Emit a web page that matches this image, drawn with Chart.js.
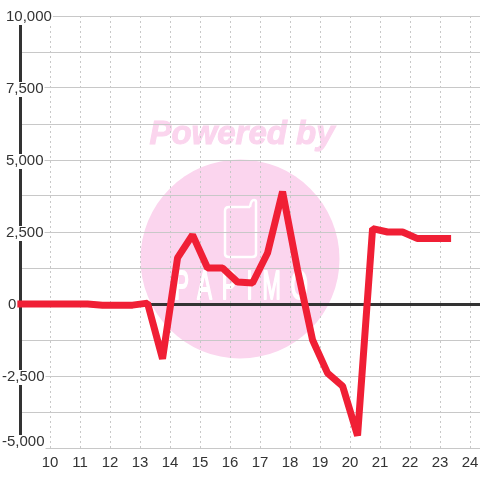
<!DOCTYPE html>
<html><head><meta charset="utf-8">
<style>html,body{margin:0;padding:0;background:#fff}#w{width:480px;height:480px;position:relative}</style>
<script src="https://cdn.jsdelivr.net/npm/chart.js@4"></script></head>
<body><div id="w"><canvas id="c" width="480" height="480"></canvas></div>
<script>
const hours=[9,9.25,9.75,10.25,10.75,11.25,11.75,12.25,12.75,13.25,13.75,14.25,14.75,15.25,15.75,16.25,16.75,17.25,17.75,18.25,18.75,19.25,19.75,20.25,20.75,21.25,21.75,22.25,22.75,23.25];
const values=[0,0,0,0,0,0,-40,-40,-40,30,-1900,1600,2400,1250,1250,760,730,1770,3900,1180,-1250,-2400,-2850,-4570,2620,2500,2500,2270,2270,2270];
const xTicks=[10,11,12,13,14,15,16,17,18,19,20,21,22,23,24];
const yLabels=[[10000,'10,000',6,1],[7500,'7,500',6,1],[5000,'5,000',6,1],[2500,'2,500',6,1],[0,'0',8,1],[-2500,'-2,500',2,1],[-5000,'-5,000',2,-6]];
const wm={id:'wm',beforeDraw(ch){const c=ch.ctx;c.save();
 c.fillStyle='#fbd5ee';c.beginPath();c.arc(240,259,99.5,0,Math.PI*2);c.fill();
 c.font='italic bold 33px "Liberation Sans"';c.textAlign='center';c.textBaseline='middle';c.strokeStyle='#fbd5ee';c.lineWidth=1;c.fillText('Powered by',242,135);c.strokeText('Powered by',242,135);
 c.strokeStyle='#fff';c.lineWidth=2.5;c.lineJoin='round';c.beginPath();c.moveTo(250,207);c.lineTo(229,207);c.quadraticCurveTo(225,207,225,211);c.lineTo(225,254);c.quadraticCurveTo(225,257,229,257);c.lineTo(252,257);c.quadraticCurveTo(256,257,256,254);c.lineTo(256,202);c.quadraticCurveTo(256,200,254,200);c.quadraticCurveTo(251,200,250,207);c.stroke();
 c.save();c.translate(246,288);c.scale(0.55,1);c.fillStyle='#fff';c.font='40px "Liberation Sans"';c.letterSpacing='18px';c.lineWidth=2;c.fillText('PAPIMO',0,0);c.strokeText('PAPIMO',0,0);c.restore();
 c.restore();}};
const lab={id:'lab',afterDraw(ch){const c=ch.ctx,s=ch.scales.y;c.save();c.font='15px "Liberation Sans"';c.textAlign='left';c.textBaseline='middle';
 for(const [v,t,x,d] of yLabels){const y=s.getPixelForValue(v)+d,w=c.measureText(t).width;c.fillStyle='#fff';c.fillRect(x-1,y-7,w+2,15);}
 for(const [v,t,x,d] of yLabels){const y=s.getPixelForValue(v)+d;c.fillStyle='#333';c.fillText(t,x,y);}
 c.restore();}};
new Chart(document.getElementById('c'),{type:'line',
 data:{datasets:[{data:hours.map((h,i)=>({x:h,y:values[i]})),borderColor:'#f01f35',borderWidth:7,pointRadius:0,tension:0,clip:false,borderJoinStyle:'bevel',borderCapStyle:'square'}]},
 plugins:[wm,lab],
 options:{responsive:false,animation:false,layout:{padding:{top:16,right:0,left:0,bottom:0}},
  plugins:{legend:{display:false},tooltip:{enabled:false}},
  scales:{
   x:{type:'linear',min:9,max:24.33,afterFit(s){s.height=32;s.paddingLeft=0;s.paddingRight=0},afterBuildTicks(s){s.ticks=[9,...xTicks].map(v=>({value:v}))},
    grid:{color:'#c8c8c8',lineWidth:1,tickLength:0,drawTicks:false},border:{display:false,dash:[2,3]},
    ticks:{color:'#333',font:{family:'Liberation Sans',size:15},padding:6,maxRotation:0,autoSkip:false,callback:v=>v===9?'':String(v)}},
   y:{min:-5000,max:10000,afterFit(s){s.width=20;s.paddingTop=0;s.paddingBottom=0},afterBuildTicks(s){s.ticks=[];for(let v=-5000;v<=10000;v+=1250)s.ticks.push({value:v})},
    grid:{color:c=>c.tick.value===0?'#333':'#c8c8c8',lineWidth:c=>c.tick.value===0?3:1,drawTicks:false},
    border:{color:'#333',width:3},ticks:{display:false}}
  }}});
</script></body></html>
